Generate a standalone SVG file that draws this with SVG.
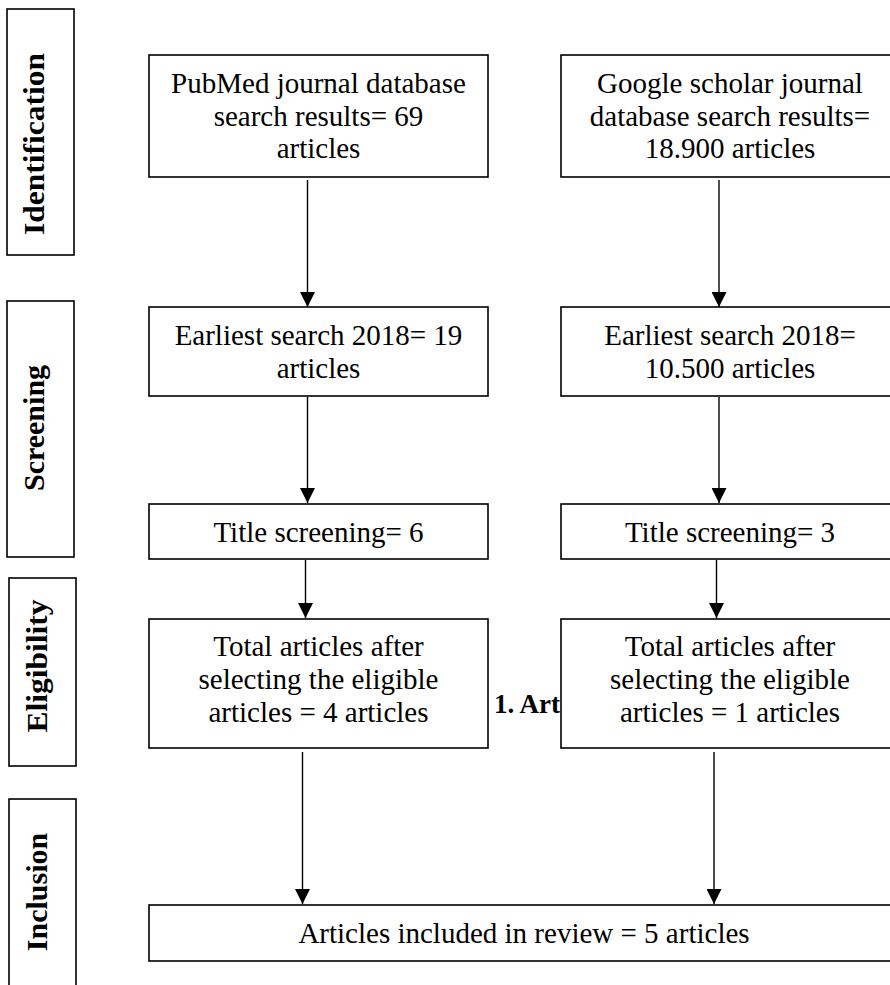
<svg xmlns="http://www.w3.org/2000/svg" width="890" height="985" viewBox="0 0 890 985">
<style>
  .box { fill: #fff; stroke: #000; stroke-width: 1.6; }
  .t { font-family: "Liberation Serif", "Times New Roman", serif; font-size: 29px; fill: #000; text-anchor: middle; }
  .lab { font-family: "Liberation Serif", "Times New Roman", serif; font-size: 30px; font-weight: bold; fill: #000; text-anchor: middle; }
  .cap { font-family: "Liberation Serif", "Times New Roman", serif; font-size: 27px; font-weight: bold; fill: #000; }
  .arr { stroke: #000; stroke-width: 1.4; fill: none; marker-end: url(#ah); }
</style>
<defs>
  <marker id="ah" markerUnits="userSpaceOnUse" markerWidth="15" markerHeight="15" refX="15" refY="7.5" orient="auto">
    <path d="M0,0 L15,7.5 L0,15 Z" fill="#000"/>
  </marker>
</defs>
<rect width="890" height="985" fill="#fff"/>

<g id="stage-identification">
  <rect class="box" x="7" y="9" width="67" height="246"/>
  <text class="lab" transform="translate(44,144) rotate(-90)" textLength="182" lengthAdjust="spacingAndGlyphs">Identification</text>
</g>
<g id="stage-screening">
  <rect class="box" x="7" y="301" width="67" height="256"/>
  <text class="lab" transform="translate(44,428) rotate(-90)">Screening</text>
</g>
<g id="stage-eligibility">
  <rect class="box" x="9" y="578" width="67" height="188"/>
  <text class="lab" transform="translate(47,666) rotate(-90)" textLength="133" lengthAdjust="spacingAndGlyphs">Eligibility</text>
</g>
<g id="stage-inclusion">
  <rect class="box" x="9" y="799" width="67" height="200"/>
  <text class="lab" transform="translate(47,892) rotate(-90)">Inclusion</text>
</g>

<g id="pubmed">
  <rect class="box" x="149" y="55" width="339" height="122"/>
  <text class="t" x="318.5" y="93">PubMed journal database</text>
  <text class="t" x="318.5" y="125.5">search results= 69</text>
  <text class="t" x="318.5" y="158">articles</text>
</g>
<g id="google">
  <rect class="box" x="561" y="55" width="338" height="122"/>
  <text class="t" x="730" y="93">Google scholar journal</text>
  <text class="t" x="730" y="125.5">database search results=</text>
  <text class="t" x="730" y="158">18.900 articles</text>
</g>
<g id="earliest-left">
  <rect class="box" x="149" y="307" width="339" height="89"/>
  <text class="t" x="318.5" y="345">Earliest search 2018= 19</text>
  <text class="t" x="318.5" y="377.5">articles</text>
</g>
<g id="earliest-right">
  <rect class="box" x="561" y="307" width="338" height="89"/>
  <text class="t" x="730" y="345">Earliest search 2018=</text>
  <text class="t" x="730" y="377.5">10.500 articles</text>
</g>
<g id="title-left">
  <rect class="box" x="149" y="504" width="339" height="55"/>
  <text class="t" x="318.5" y="541.5">Title screening= 6</text>
</g>
<g id="title-right">
  <rect class="box" x="561" y="504" width="338" height="55"/>
  <text class="t" x="730" y="541.5">Title screening= 3</text>
</g>
<g id="eligible-left">
  <rect class="box" x="149" y="619" width="339" height="129"/>
  <text class="t" x="318.5" y="656">Total articles after</text>
  <text class="t" x="318.5" y="689">selecting the eligible</text>
  <text class="t" x="318.5" y="722">articles = 4 articles</text>
</g>
<g id="caption">
  <text class="cap" x="494" y="713">1. Art</text>
</g>
<g id="eligible-right">
  <rect class="box" x="561" y="619" width="338" height="129"/>
  <text class="t" x="730" y="656">Total articles after</text>
  <text class="t" x="730" y="689">selecting the eligible</text>
  <text class="t" x="730" y="722">articles = 1 articles</text>
</g>
<g id="included">
  <rect class="box" x="149" y="905" width="750" height="56"/>
  <text class="t" x="524" y="943">Articles included in review = 5 articles</text>
</g>

<g id="connectors">
  <line class="arr" x1="307.5" y1="180" x2="307.5" y2="307"/>
  <line class="arr" x1="719" y1="180" x2="719" y2="307"/>
  <line class="arr" x1="307.5" y1="397" x2="307.5" y2="503"/>
  <line class="arr" x1="719" y1="397" x2="719" y2="503"/>
  <line class="arr" x1="305.5" y1="560" x2="305.5" y2="618"/>
  <line class="arr" x1="716.5" y1="560" x2="716.5" y2="618"/>
  <line class="arr" x1="302.5" y1="752" x2="302.5" y2="904"/>
  <line class="arr" x1="714" y1="752" x2="714" y2="904"/>
</g>
</svg>
